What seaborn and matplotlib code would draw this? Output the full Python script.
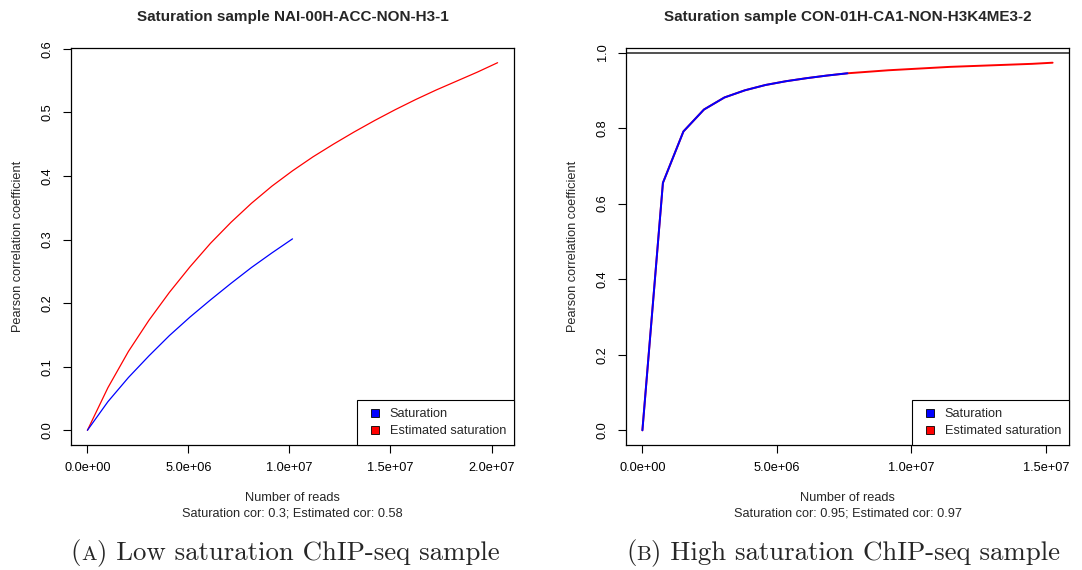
import matplotlib
matplotlib.use("Agg")
import matplotlib.pyplot as plt
import seaborn as sns
from matplotlib.lines import Line2D
from matplotlib.offsetbox import TextArea, HPacker, AnnotationBbox
from matplotlib.ticker import FixedLocator, FixedFormatter

# ---------------- data ----------------
left_title = "Saturation sample NAI-00H-ACC-NON-H3-1"
left_subtitle = "Saturation cor: 0.3; Estimated cor: 0.58"
left_est_reads = [0, 1.015e6, 2.03e6, 3.045e6, 4.06e6, 5.075e6, 6.09e6, 7.105e6, 8.12e6,
                  9.135e6, 10.15e6, 11.165e6, 12.18e6, 13.195e6, 14.21e6, 15.225e6,
                  16.24e6, 17.255e6, 18.27e6, 19.285e6, 20.3e6]
left_est_cor = [0, 0.067, 0.124, 0.173, 0.217, 0.257, 0.294, 0.327, 0.357, 0.384, 0.408,
                0.430, 0.450, 0.469, 0.487, 0.504, 0.520, 0.535, 0.549, 0.563, 0.578]
left_sat_reads = [0, 1.015e6, 2.03e6, 3.045e6, 4.06e6, 5.075e6, 6.09e6, 7.105e6, 8.12e6,
                  9.135e6, 10.15e6]
left_sat_cor = [0, 0.045, 0.083, 0.117, 0.149, 0.178, 0.205, 0.231, 0.256, 0.279, 0.301]
left_xticks = [0, 5e6, 1e7, 1.5e7, 2e7]
left_xticklabels = ["0.0e+00", "5.0e+06", "1.0e+07", "1.5e+07", "2.0e+07"]
left_yticks = [0.0, 0.1, 0.2, 0.3, 0.4, 0.5, 0.6]
left_yticklabels = ["0.0", "0.1", "0.2", "0.3", "0.4", "0.5", "0.6"]

right_title = "Saturation sample CON-01H-CA1-NON-H3K4ME3-2"
right_subtitle = "Saturation cor: 0.95; Estimated cor: 0.97"
right_est_reads = [0, 0.7625e6, 1.525e6, 2.2875e6, 3.05e6, 3.8125e6, 4.575e6, 5.3375e6,
                   6.1e6, 6.8625e6, 7.625e6, 8.3875e6, 9.15e6, 9.9125e6, 10.675e6,
                   11.4375e6, 12.2e6, 12.9625e6, 13.725e6, 14.4875e6, 15.25e6]
right_est_cor = [0, 0.655, 0.791, 0.849, 0.881, 0.900, 0.914, 0.924, 0.932, 0.939, 0.945,
                 0.949, 0.953, 0.956, 0.959, 0.962, 0.964, 0.966, 0.968, 0.970, 0.973]
right_sat_reads = [0, 0.7625e6, 1.525e6, 2.2875e6, 3.05e6, 3.8125e6, 4.575e6, 5.3375e6,
                   6.1e6, 6.8625e6, 7.625e6]
right_sat_cor = [0, 0.655, 0.791, 0.849, 0.881, 0.900, 0.914, 0.924, 0.932, 0.939, 0.945]
right_hline = 1.0
right_xticks = [0, 5e6, 1e7, 1.5e7]
right_xticklabels = ["0.0e+00", "5.0e+06", "1.0e+07", "1.5e+07"]
right_yticks = [0.0, 0.2, 0.4, 0.6, 0.8, 1.0]
right_yticklabels = ["0.0", "0.2", "0.4", "0.6", "0.8", "1.0"]

series_names = ["Saturation", "Estimated saturation"]
series_colors = ["#0000FF", "#FF0000"]
x_label = "Number of reads"
y_label = "Pearson correlation coefficient"
captions = [("A", ") Low saturation ChIP-seq sample"), ("B", ") High saturation ChIP-seq sample")]

# ---------------- style ----------------
sns.set_style("white")
plt.rcParams["font.family"] = ["Liberation Sans", "DejaVu Sans"]

W, H = 1082, 570
fig = plt.figure(figsize=(W / 100, H / 100), dpi=100)

FS = 9.2


def px(x, y):
    return x / W, 1 - y / H


def r_lim(vals):
    lo, hi = min(vals), max(vals)
    d = (hi - lo) * 0.04
    return lo - d, hi + d


panels = [
    dict(left=71, title=left_title, sub=left_subtitle, est_x=left_est_reads, est_y=left_est_cor,
         sat_x=left_sat_reads, sat_y=left_sat_cor, xt=left_xticks, xtl=left_xticklabels,
         yt=left_yticks, ytl=left_yticklabels, hline=None, lw=0.9, cap_x=285),
    dict(left=626, title=right_title, sub=right_subtitle, est_x=right_est_reads, est_y=right_est_cor,
         sat_x=right_sat_reads, sat_y=right_sat_cor, xt=right_xticks, xtl=right_xticklabels,
         yt=right_yticks, ytl=right_yticklabels, hline=right_hline, lw=1.4, cap_x=843),
]

ax_w, ax_top, ax_bot = 443, 48, 445

for i, p in enumerate(panels):
    l = p["left"]
    ax = fig.add_axes([l / W, 1 - ax_bot / H, ax_w / W, (ax_bot - ax_top) / H])
    sns.lineplot(x=p["est_x"], y=p["est_y"], ax=ax, color=series_colors[1], lw=p["lw"],
                 estimator=None, sort=False, legend=False)
    sns.lineplot(x=p["sat_x"], y=p["sat_y"], ax=ax, color=series_colors[0], lw=p["lw"],
                 estimator=None, sort=False, legend=False)
    if p["hline"] is not None:
        ax.axhline(p["hline"], color="#222222", lw=1.1)
    ax.set_xlim(*r_lim(p["est_x"]))
    ax.set_ylim(*r_lim(p["est_y"]))
    ax.xaxis.set_major_locator(FixedLocator(p["xt"]))
    ax.xaxis.set_major_formatter(FixedFormatter(p["xtl"]))
    ax.yaxis.set_major_locator(FixedLocator(p["yt"]))
    ax.yaxis.set_major_formatter(FixedFormatter(p["ytl"]))
    ax.set_xlabel("")
    ax.set_ylabel("")
    for s in ax.spines.values():
        s.set_visible(True)
        s.set_color("black")
        s.set_linewidth(0.9)
    ax.tick_params(axis="both", direction="out", length=5.8, width=0.8, color="black",
                   labelsize=FS, labelcolor="black", bottom=True, left=True)
    ax.tick_params(axis="x", pad=6.5)
    ax.tick_params(axis="y", pad=6.5, labelrotation=90)
    for lbl in ax.get_yticklabels():
        lbl.set_va("center")

    handles = [Line2D([], [], marker="s", linestyle="none", markersize=5.4,
                      markerfacecolor=c, markeredgecolor="black", markeredgewidth=0.6)
               for c in series_colors]
    leg = ax.legend(handles, series_names, loc="lower right", borderaxespad=0,
                    fontsize=FS, frameon=True, fancybox=False, framealpha=1,
                    edgecolor="black", borderpad=0.62, handlelength=1.6,
                    handletextpad=0.35, labelspacing=0.38)
    leg.get_frame().set_linewidth(0.8)

    cx = l + ax_w / 2
    fig.text(*px(cx, 17), p["title"], ha="center", va="center", fontsize=11,
             fontweight="bold")
    fig.text(*px(cx, 498), x_label, ha="center", va="center", fontsize=FS)
    fig.text(*px(cx, 514), p["sub"], ha="center", va="center", fontsize=FS)
    fig.text(*px(l - 53, (ax_top + ax_bot) / 2), y_label, ha="center", va="center",
             rotation=90, fontsize=FS)

    letter, rest = captions[i]
    fam = ["cmr10", "DejaVu Serif"]
    parts = [TextArea("(", textprops=dict(family=fam, size=19.3)),
             TextArea(letter, textprops=dict(family=fam, size=14.9)),
             TextArea(rest, textprops=dict(family=fam, size=19.3))]
    box = HPacker(children=parts, align="baseline", pad=0, sep=0)
    ab = AnnotationBbox(box, (p["cap_x"], H - 553), xycoords="figure pixels", frameon=False,
                        box_alignment=(0.5, 0.5), pad=0)
    fig.add_artist(ab)

fig.savefig("out.png", dpi=100)
